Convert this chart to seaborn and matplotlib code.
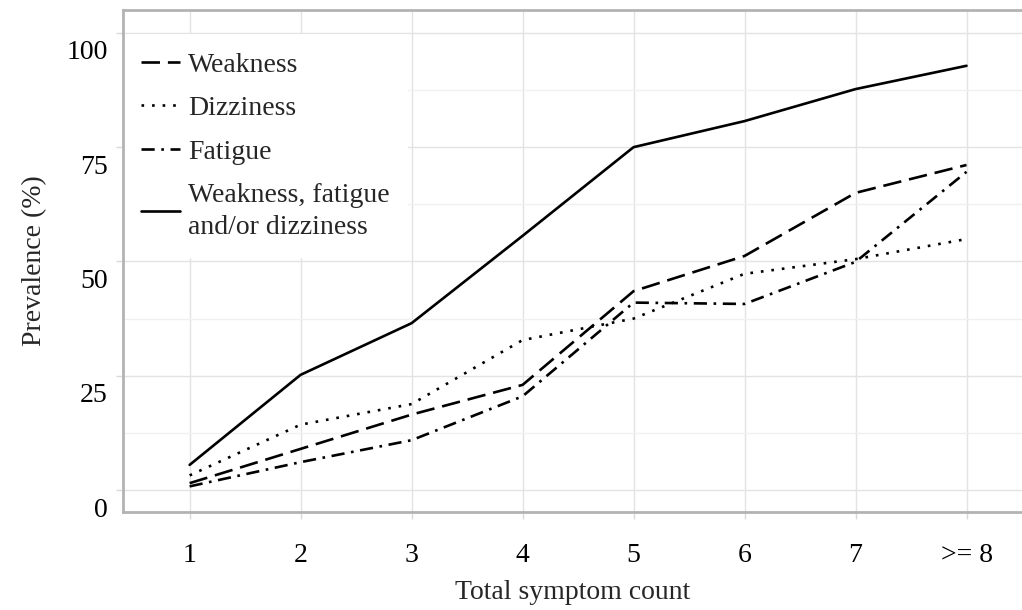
import numpy as np
import pandas as pd
import matplotlib
matplotlib.use("Agg")
import matplotlib.pyplot as plt
import seaborn as sns
from matplotlib.transforms import ScaledTranslation
from matplotlib.ticker import MultipleLocator


# ==========================================
# DATA
# ==========================================

symptom_counts = ["1", "2", "3", "4", "5", "6", "7", ">= 8"]

weakness = [1.5, 9.0, 16.5, 23.0, 43.5, 51.2, 65.0, 71.1]

dizziness = [3.2, 14.3, 18.8, 32.8, 37.5, 47.3, 50.5, 54.9]

fatigue = [0.8, 6.1, 10.9, 20.5, 41.0, 40.7, 49.9, 69.6]

any_symptom = [5.5, 25.2, 36.5, 55.6, 75.0, 80.7, 87.7, 92.8]

series_names = [
    "Weakness",
    "Dizziness",
    "Fatigue",
    "Weakness, fatigue\nand/or dizziness"
]


frames = []

for name, values in zip(
    series_names,
    [weakness, dizziness, fatigue, any_symptom]
):

    frames.append(pd.DataFrame({
        "count": symptom_counts,
        "prevalence": values,
        "series": name
    }))

dataframe = pd.concat(frames, ignore_index=True)


# ==========================================
# STYLE
# ==========================================

sns.set_style("white")

plt.rcParams["font.family"] = ["Liberation Serif", "DejaVu Serif"]

font_size = 20

line_dashes = {
    series_names[0]: (7, 3),
    series_names[1]: (1, 3),
    series_names[2]: (5, 2.5, 1, 2.5),
    series_names[3]: ""
}


# ==========================================
# FIGURE
# ==========================================

fig = plt.figure(figsize=(10.22, 6.10), dpi=100)

ax = fig.add_axes([0.1204, 0.1607, 0.8796, 0.8229])

ax.set_axisbelow(True)

sns.lineplot(
    data=dataframe,
    x="count",
    y="prevalence",
    hue="series",
    style="series",
    palette=["black"] * 4,
    dashes=line_dashes,
    linewidth=1.9,
    sort=False,
    ax=ax
)

ax.set_xlim(-0.6, 7.5)

ax.set_ylim(-4.8, 105)

ax.yaxis.set_major_locator(MultipleLocator(25))

ax.yaxis.set_minor_locator(MultipleLocator(12.5))

ax.grid(which="major", color="#e3e3e3", linewidth=1.0)

ax.grid(which="minor", axis="y", color="#f0f0f0", linewidth=1.0)

for side in ["left", "top", "bottom"]:

    ax.spines[side].set_color("#b3b3b3")

    ax.spines[side].set_linewidth(2.0)

ax.spines["right"].set_visible(False)

ax.tick_params(
    axis="both",
    which="major",
    length=5,
    width=1.0,
    color="#d9d9d9",
    labelsize=font_size,
    labelcolor="black"
)

ax.tick_params(axis="x", pad=17, bottom=True)

ax.tick_params(axis="y", pad=6, left=True)

ax.tick_params(which="minor", length=0)

# y tick labels sit below their gridlines in the original
offset = ScaledTranslation(0, -17 / 100, fig.dpi_scale_trans)

for label in ax.get_yticklabels():

    label.set_transform(label.get_transform() + offset)

ax.set_xlabel("Total symptom count", fontsize=font_size, labelpad=9)

ax.set_ylabel("Prevalence (%)", fontsize=font_size, labelpad=14)

handles, labels = ax.get_legend_handles_labels()

legend = ax.legend(
    handles,
    labels,
    loc="upper left",
    bbox_to_anchor=(0.0, 0.952),
    fontsize=font_size,
    frameon=True,
    facecolor="white",
    edgecolor="none",
    framealpha=1.0,
    handlelength=1.4,
    handletextpad=0.3,
    labelspacing=0.65,
    borderaxespad=0.0,
    borderpad=0.65
)

legend.get_frame().set_boxstyle("Square", pad=0)

# keep the spine visible over the legend box
legend.set_zorder(2.4)

for text in legend.get_texts():

    text.set_linespacing(1.4)

fig.savefig("out.png", dpi=100)
